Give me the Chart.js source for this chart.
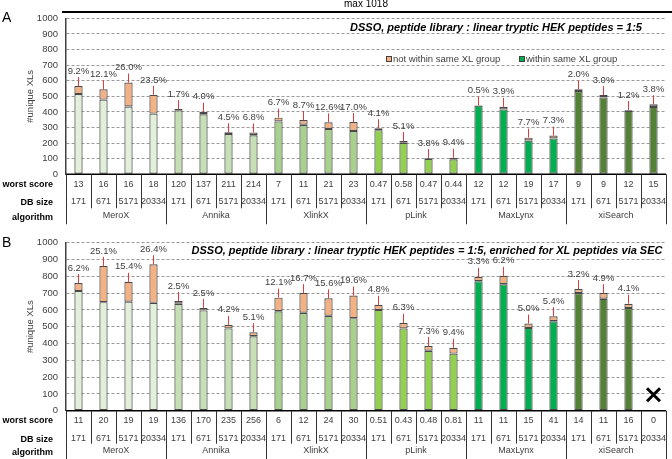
<!DOCTYPE html>
<html>
<head>
<meta charset="utf-8">
<script src="https://cdn.jsdelivr.net/npm/chart.js@4/dist/chart.umd.min.js"></script>
<style>
  body { margin: 0; background: #fff; }
  #wrap { position: relative; width: 672px; height: 459px; }
  canvas { position: absolute; left: 0; }
</style>
</head>
<body>
<div id="wrap">
  <canvas id="chartA" width="672" height="229" style="top:0"></canvas>
  <canvas id="chartB" width="672" height="230" style="top:229px"></canvas>
</div>
<script>
const algorithms = ['MeroX', 'Annika', 'XlinkX', 'pLink', 'MaxLynx', 'xiSearch'];
const dbSizes = ['171', '671', '5171', '20334'];
const algoColors = ['#e2f0d9', '#c5e0b4', '#a9d18e', '#92d050', '#00b050', '#548235'];
const orange = '#f4b183';

// panel A: DSSO, peptide library : linear tryptic HEK peptides = 1:5
const worstA = ['13', '16', '16', '18', '120', '137', '211', '214', '7', '11', '21', '23',
  '0.47', '0.58', '0.47', '0.44', '12', '12', '19', '17', '9', '9', '12', '15'];
const withinA = [514, 479, 435, 389, 411, 385, 258, 250, 339, 318, 291, 278,
  283, 202, 100, 96, 440, 416, 217, 230, 534, 493, 407, 432];
const notWithinA = [52, 66, 153, 120, 7, 16, 12, 18, 24, 30, 42, 57,
  12, 11, 4, 10, 2, 17, 18, 18, 11, 15, 5, 17];
const pctA = ['9.2%', '12.1%', '26.0%', '23.5%', '1.7%', '4.0%', '4.5%', '6.8%', '6.7%', '8.7%', '12.6%', '17.0%',
  '4.1%', '5.1%', '3.8%', '9.4%', '0.5%', '3.9%', '7.7%', '7.3%', '2.0%', '3.0%', '1.2%', '3.8%'];

// panel B: ... enriched for XL peptides via SEC
const worstB = ['11', '20', '19', '19', '136', '170', '235', '256', '6', '12', '24', '30',
  '0.51', '0.43', '0.48', '0.81', '11', '11', '15', '41', '14', '11', '16', '0'];
const withinB = [713, 646, 649, 642, 637, 597, 490, 443, 592, 583, 565, 551,
  600, 490, 357, 340, 771, 753, 493, 532, 701, 666, 611, 0];
const notWithinB = [47, 216, 118, 230, 16, 15, 21, 24, 81, 117, 104, 134,
  30, 33, 28, 35, 26, 50, 26, 30, 23, 34, 26, 0];
const pctB = ['6.2%', '25.1%', '15.4%', '26.4%', '2.5%', '2.5%', '4.2%', '5.1%', '12.1%', '16.7%', '15.6%', '19.6%',
  '4.8%', '6.3%', '7.3%', '9.4%', '3.3%', '6.2%', '5.0%', '5.4%', '3.2%', '4.9%', '4.1%', ''];

const labels = [];
algorithms.forEach(a => dbSizes.forEach(d => labels.push(a + ' ' + d)));
const barColors = labels.map((l, i) => algoColors[Math.floor(i / 4)]);

const FONT = "'Liberation Sans', Arial, sans-serif";
const TXT = '#404040';

function tablePlugin(cfg) {
  return {
    id: 'extras',
    afterDatasetsDraw(chart) {
      const ctx = chart.ctx;
      const metaO = chart.getDatasetMeta(1);
      ctx.save();
      ctx.font = '9.5px ' + FONT;
      ctx.textAlign = 'center';
      ctx.textBaseline = 'middle';
      cfg.pct.forEach((p, i) => {
        if (!p) return;
        const el = metaO.data[i];
        ctx.strokeStyle = '#e03c3c';
        ctx.lineWidth = 1;
        ctx.beginPath();
        ctx.moveTo(el.x, el.y - 9);
        ctx.lineTo(el.x, el.y);
        ctx.stroke();
        ctx.fillStyle = TXT;
        ctx.fillText(p, el.x, el.y - 15);
      });
      ctx.restore();
    },
    afterDraw(chart) {
      const ctx = chart.ctx;
      const x = chart.scales.x, y = chart.scales.y;
      const y0 = y.getPixelForValue(0);
      const step = (x.right - x.left) / labels.length;
      ctx.save();
      // axis line
      ctx.strokeStyle = '#000';
      ctx.lineWidth = 1.5;
      ctx.beginPath();
      ctx.moveTo(x.left, y0);
      ctx.lineTo(x.right, y0);
      ctx.stroke();
      // table lines
      ctx.strokeStyle = '#333';
      ctx.lineWidth = 1;
      for (let i = 0; i <= labels.length; i++) {
        const px = Math.round(x.left + i * step) + 0.5;
        const bottom = (i % 4 === 0) ? y0 + cfg.groupLine : y0 + cfg.cellLine;
        ctx.beginPath();
        ctx.moveTo(px, y0);
        ctx.lineTo(px, bottom);
        ctx.stroke();
      }
      // table text
      ctx.font = '9px ' + FONT;
      ctx.fillStyle = TXT;
      ctx.textAlign = 'center';
      ctx.textBaseline = 'middle';
      labels.forEach((l, i) => {
        const cx = x.getPixelForValue(i);
        ctx.fillText(cfg.worst[i], cx, y0 + cfg.rowWorst);
        ctx.fillText(dbSizes[i % 4], cx, y0 + cfg.rowDb);
      });
      algorithms.forEach((a, g) => {
        const cx = x.left + (g * 4 + 2) * step;
        ctx.fillText(a, cx, y0 + cfg.rowAlgo);
      });
      ctx.font = 'bold 9px ' + FONT;
      ctx.fillStyle = '#000';
      ctx.textAlign = 'right';
      ctx.fillText('worst score', 53, y0 + cfg.rowWorst);
      ctx.fillText('DB size', 53, y0 + cfg.rowDb + 1);
      ctx.fillText('algorithm', 53, y0 + cfg.rowAlgo + 2);
      // panel letter
      ctx.font = '14px ' + FONT;
      ctx.textAlign = 'left';
      ctx.fillText(cfg.letter, 2, cfg.letterY);
      // title
      ctx.font = 'italic bold 11px ' + FONT;
      ctx.textAlign = 'center';
      ctx.fillText(cfg.title, cfg.titleX, cfg.titleY);
      if (cfg.extra) cfg.extra(chart, ctx);
      ctx.restore();
    }
  };
}

function makeChart(id, within, notWithin, cfg) {
  return new Chart(document.getElementById(id), {
    type: 'bar',
    data: {
      labels: labels,
      datasets: [
        { label: 'within same XL group', data: within, backgroundColor: barColors,
          borderColor: '#4a4a4a', borderWidth: 1.2, borderSkipped: false,
          categoryPercentage: 1, barPercentage: 0.33 },
        { label: 'not within same XL group', data: notWithin, backgroundColor: orange,
          borderColor: '#4a4a4a', borderWidth: 1.2, borderSkipped: false,
          categoryPercentage: 1, barPercentage: 0.33 }
      ]
    },
    options: {
      responsive: false,
      animation: false,
      layout: { padding: { top: cfg.padTop, bottom: cfg.padBottom, left: 0, right: 6 } },
      plugins: { legend: { display: false }, tooltip: { enabled: false } },
      scales: {
        x: { stacked: true, display: false },
        y: {
          stacked: true, min: 0, max: 1000,
          afterFit(s) { s.width = 66; },
          ticks: { stepSize: 100, padding: 8, color: TXT, font: { family: FONT, size: 9.5 },
            callback: v => String(v) },
          grid: { color: '#9a9a9a', lineWidth: 1, drawTicks: false },
          border: { display: true, color: '#404040', width: 1.5, dash: [3, 2] },
          title: { display: true, text: '#unique XLs', color: TXT,
            font: { family: FONT, size: 9.5 }, padding: { top: 25, bottom: 0 } }
        }
      }
    },
    plugins: [tablePlugin(cfg)]
  });
}

makeChart('chartA', withinA, notWithinA, {
  padTop: 18.3, padBottom: 54.7, worst: worstA, pct: pctA,
  rowWorst: 10, rowDb: 27, rowAlgo: 41, cellLine: 34, groupLine: 50,
  letter: 'A', letterY: 18, title: 'DSSO, peptide library : linear tryptic HEK peptides = 1:5',
  titleX: 496, titleY: 28,
  extra(chart, ctx) {
    ctx.font = '10px ' + FONT;
    ctx.fillStyle = '#000';
    ctx.textAlign = 'center';
    ctx.fillText('max 1018', 366, 4);
    ctx.strokeStyle = '#000';
    ctx.lineWidth = 2;
    ctx.beginPath();
    ctx.moveTo(62, 12);
    ctx.lineTo(672, 12);
    ctx.stroke();
    // legend
    ctx.font = '9.5px ' + FONT;
    ctx.lineWidth = 1;
    ctx.strokeStyle = '#404040';
    ctx.textAlign = 'left';
    ctx.fillStyle = orange;
    ctx.fillRect(386.5, 56.5, 5, 5);
    ctx.strokeRect(386.5, 56.5, 5, 5);
    ctx.fillStyle = '#00b050';
    ctx.fillRect(519.5, 56.5, 5, 5);
    ctx.strokeRect(519.5, 56.5, 5, 5);
    ctx.fillStyle = TXT;
    ctx.fillText('not within same XL group', 393, 59.5);
    ctx.fillText('within same XL group', 526, 59.5);
  }
});

makeChart('chartB', withinB, notWithinB, {
  padTop: 12.7, padBottom: 48.3, worst: worstB, pct: pctB,
  rowWorst: 10, rowDb: 27.6, rowAlgo: 40, cellLine: 33, groupLine: 49,
  letter: 'B', letterY: 14, title: 'DSSO, peptide library : linear tryptic HEK peptides = 1:5, enriched for XL peptides via SEC',
  titleX: 427, titleY: 22,
  extra(chart, ctx) {
    // no result for xiSearch / 20334
    const cx = chart.scales.x.getPixelForValue(23);
    const cy = chart.scales.y.getPixelForValue(95);
    ctx.strokeStyle = '#000';
    ctx.lineWidth = 3;
    ctx.beginPath();
    ctx.moveTo(cx - 6.5, cy - 6.5); ctx.lineTo(cx + 6.5, cy + 6.5);
    ctx.moveTo(cx + 6.5, cy - 6.5); ctx.lineTo(cx - 6.5, cy + 6.5);
    ctx.stroke();
  }
});
</script>
</body>
</html>
